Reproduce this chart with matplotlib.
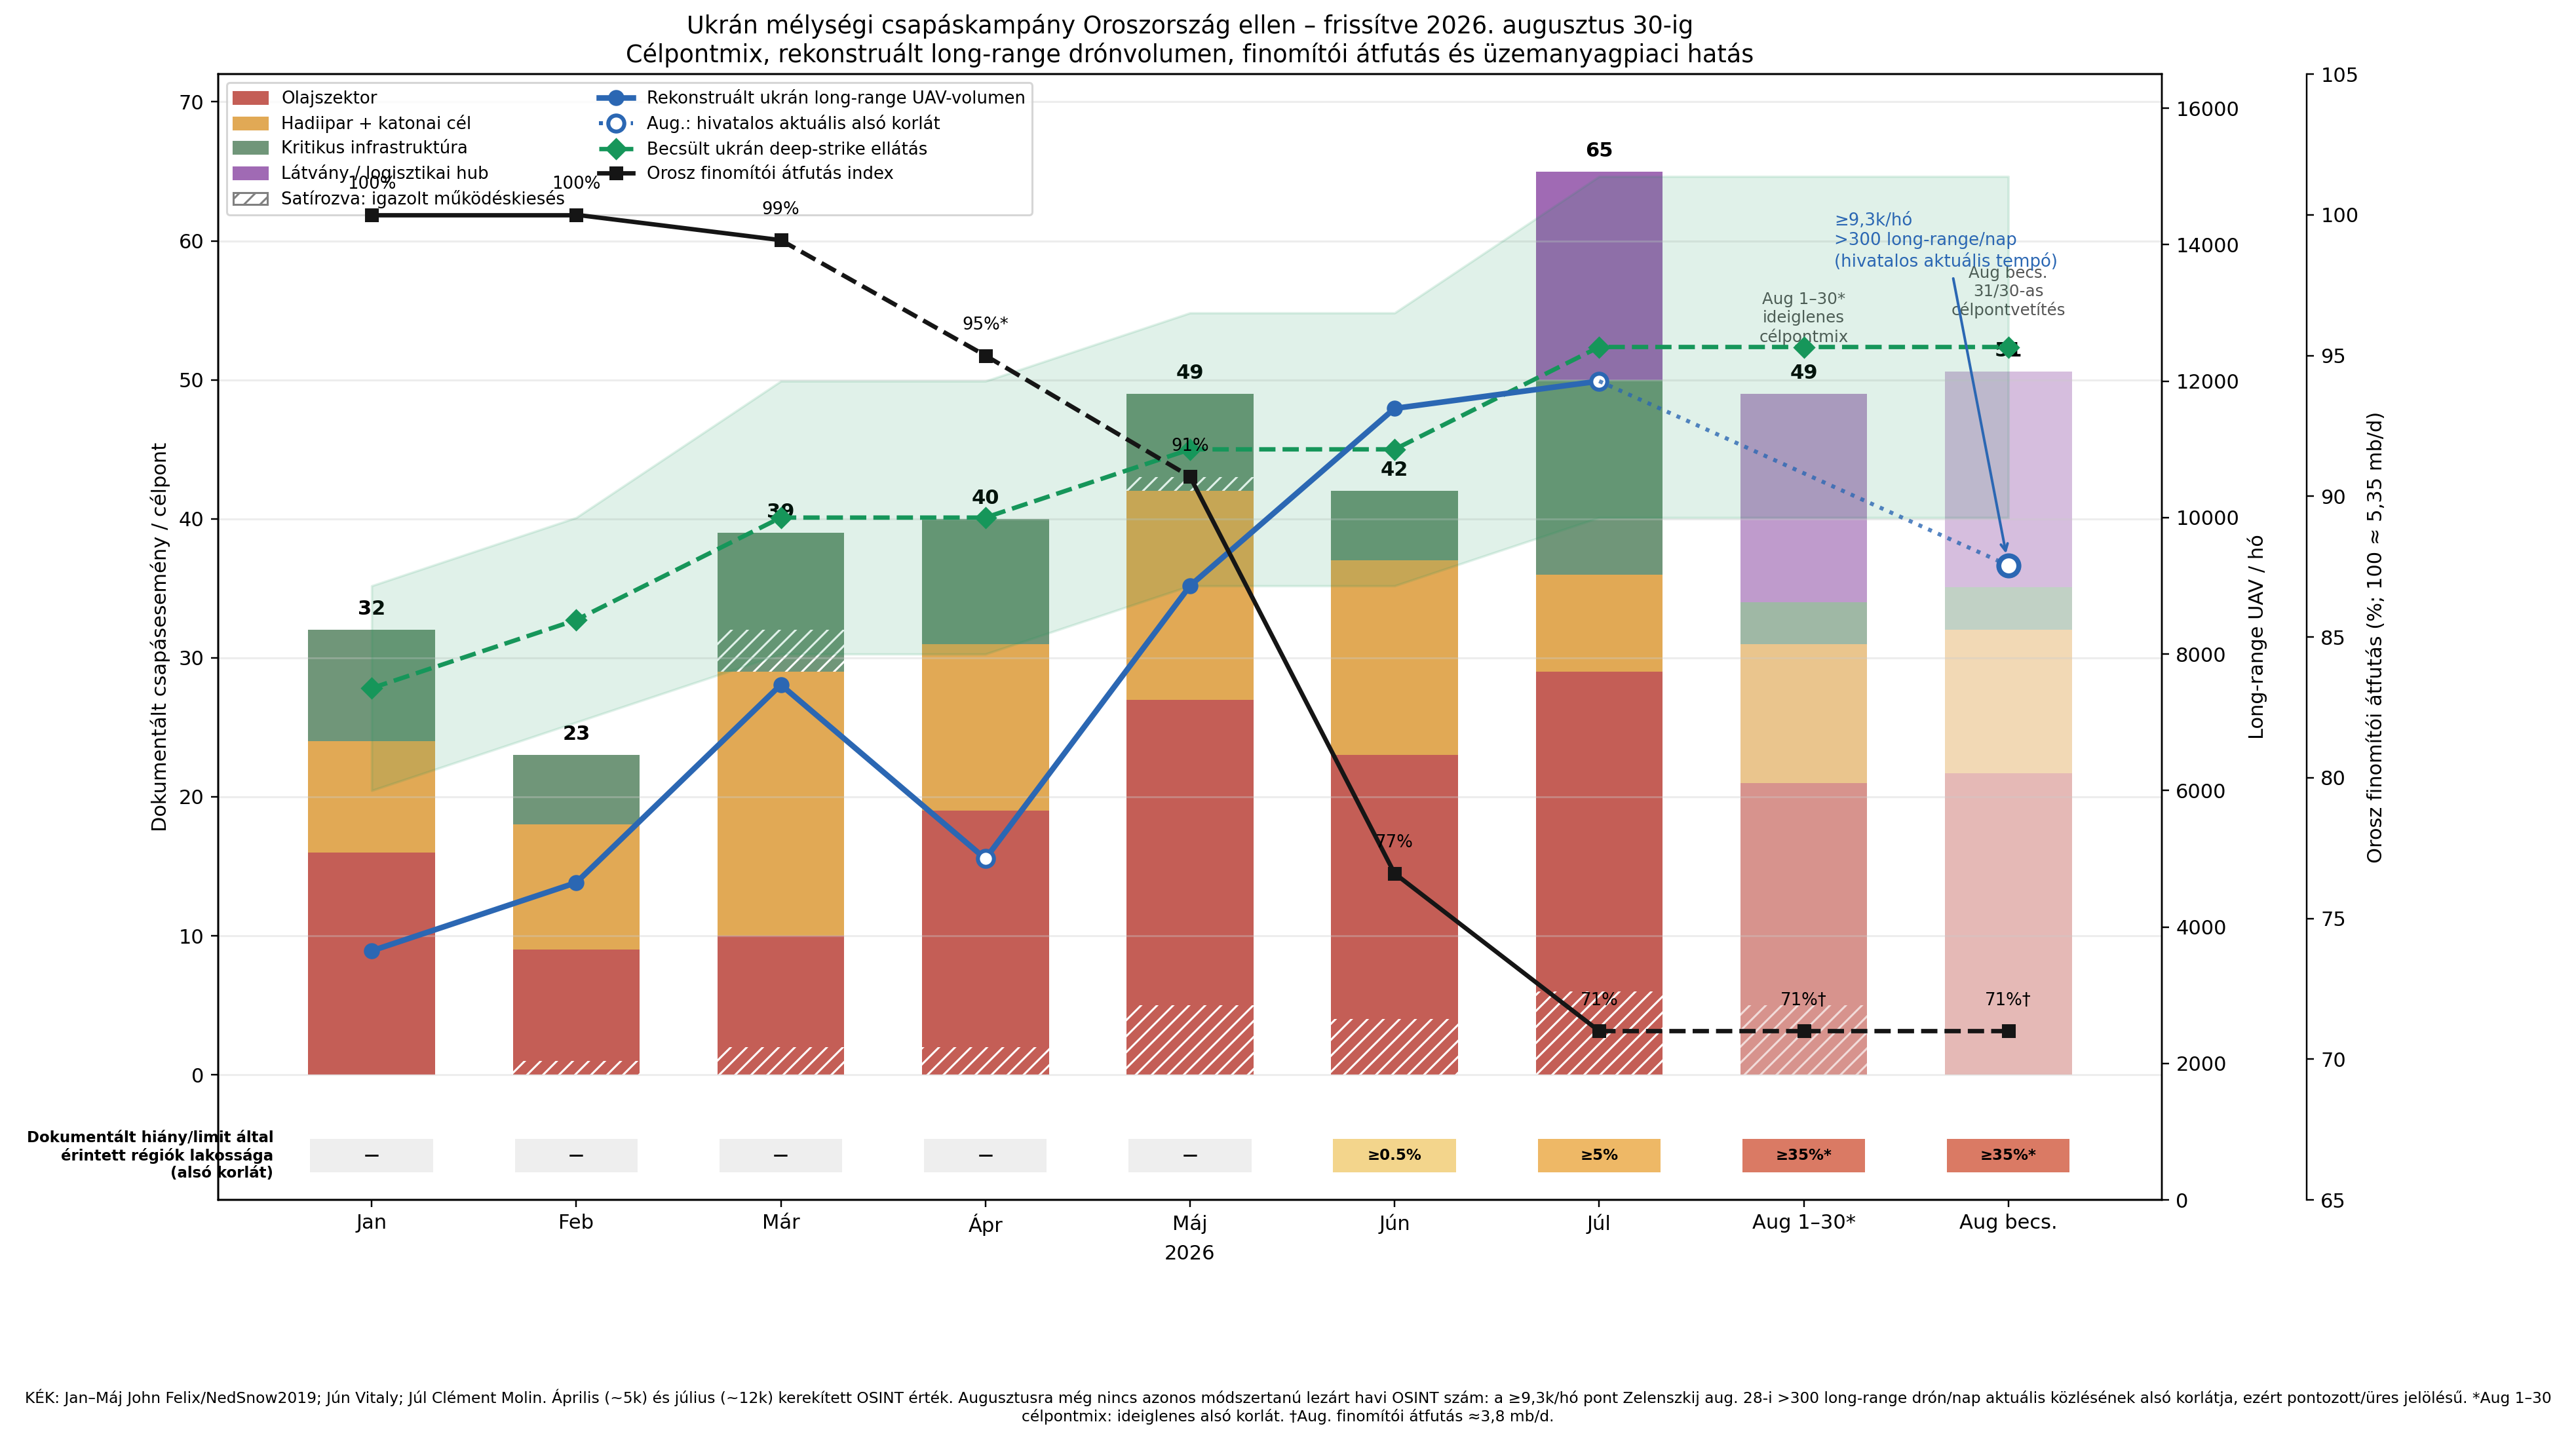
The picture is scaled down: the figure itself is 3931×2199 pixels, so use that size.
import numpy as np
import matplotlib
matplotlib.use("Agg")
import matplotlib.pyplot as plt
from matplotlib.colors import to_rgba
from matplotlib.patches import Patch
from matplotlib.lines import Line2D

# ---- data ----
months = ['Jan', 'Feb', 'Már', 'Ápr', 'Máj', 'Jún', 'Júl', 'Aug 1–30*', 'Aug becs.']

# célpontmix (darab)
olaj = [16, 9, 10, 19, 27, 23, 29, 21, 21.7]
hadiipar = [8, 9, 19, 12, 15, 14, 7, 10, 10.3]
infra = [8, 5, 10, 9, 7, 5, 14, 3, 3.1]
logisztika = [0, 0, 0, 0, 0, 0, 15, 15, 15.5]

# igazolt működéskiesés (satírozott rész)
kieses_olaj = [0, 1, 2, 2, 5, 4, 6, 5, 0]
kieses_infra = [0, 0, 3, 0, 1, 0, 0, 0, 0]

# long-range UAV / hó (Jan–Júl), aug. alsó korlát
uav = [3650, 4650, 7550, 5000, 9000, 11600, 12000]
uav_open = [3, 6]          # kerekített OSINT értékek
uav_aug_low = 9300

# becsült deep-strike ellátás + sáv
ellatas = [7500, 8500, 10000, 10000, 11000, 11000, 12500, 12500, 12500]
ellatas_lo = [6000, 7000, 8000, 8000, 9000, 9000, 10000, 10000, 10000]
ellatas_hi = [9000, 10000, 12000, 12000, 13000, 13000, 15000, 15000, 15000]

# finomítói átfutás index (%)
finomito = [100, 100, 99.1, 95.0, 90.7, 76.6, 71.0, 71.0, 71.0]
finomito_lbl = ['100%', '100%', '99%', '95%*', '91%', '77%', '71%', '71%†', '71%†']

# érintett lakosság
lakossag = ['—', '—', '—', '—', '—', '≥0.5%', '≥5%', '≥35%*', '≥35%*']
lakossag_col = ['#eeeeee'] * 5 + ['#f3d58c', '#eeb866', '#da7a64', '#da7a64']

# ---- colors ----
c_olaj = '#c45e56'
c_had = '#e1a955'
c_inf = '#709679'
c_log = '#a06ab4'
c_blue = '#2b67b3'
c_green = '#16965a'
c_black = '#151515'
bar_alpha = [1, 1, 1, 1, 1, 1, 1, 0.67, 0.43]

x = np.arange(len(months))
w = 0.62

fig = plt.figure(figsize=(3931 / 220, 2199 / 220), dpi=220)
ax = fig.add_axes([0.0847, 0.1673, 0.7545, 0.7813])


def cols(c):
    return [to_rgba(c, a) for a in bar_alpha]


bottom = np.zeros(len(x))
for vals, c in [(olaj, c_olaj), (hadiipar, c_had), (infra, c_inf), (logisztika, c_log)]:
    ax.bar(x, vals, w, bottom=bottom, color=cols(c), linewidth=0)
    bottom += np.array(vals)
total = bottom

# satírozás
hatch_ec = [to_rgba('white', a) for a in bar_alpha]
ax.bar(x, kieses_olaj, w, bottom=0, facecolor='none', edgecolor=hatch_ec,
       hatch='///', linewidth=0)
ax.bar(x, kieses_infra, w, bottom=np.array(olaj) + np.array(hadiipar),
       facecolor='none', edgecolor=hatch_ec, hatch='///', linewidth=0)

for xi, t in zip(x, total):
    ax.text(xi, t + 0.8, f'{t:.0f}', ha='center', va='bottom',
            fontsize=10, fontweight='bold')

# lakossági sor
ax.bar(x, 2.4, 0.6, bottom=-7, color=lakossag_col, linewidth=0)
for xi, s in zip(x, lakossag):
    ax.text(xi, -5.8, s, ha='center', va='center', fontsize=7.5, fontweight='bold')
ax.text(-0.48, -5.8, 'Dokumentált hiány/limit által\nérintett régiók lakossága\n(alsó korlát)',
        ha='right', va='center', fontsize=7.5, fontweight='bold')

ax.set_xlim(-0.75, 8.75)
ax.set_ylim(-9, 72)
ax.set_yticks(range(0, 71, 10))
ax.set_xticks(x)
ax.set_xticklabels(months)
ax.set_xlabel('2026')
ax.set_ylabel('Dokumentált csapásesemény / célpont')
ax.grid(axis='y', color='#cccccc', alpha=0.35, lw=1.0)
ax.set_title('Ukrán mélységi csapáskampány Oroszország ellen – frissítve 2026. augusztus 30-ig\n'
             'Célpontmix, rekonstruált long-range drónvolumen, finomítói átfutás és üzemanyagpiaci hatás',
             fontsize=12)

# ---- UAV tengely ----
ax2 = ax.twinx()
ax2.set_ylim(0, 16500)
ax2.fill_between(x, ellatas_lo, ellatas_hi, color=c_green, alpha=0.13, lw=1.2)
ax2.plot(x, ellatas, '--', color=c_green, lw=2.2, marker='D', ms=7)
ax2.plot(x[:len(uav)], uav, '-', color=c_blue, lw=2.8, marker='o', ms=7)
ax2.plot(x[uav_open], np.array(uav)[uav_open], 'o', mfc='white', mec=c_blue,
         mew=2, ms=8, ls='none')
ax2.plot([x[6], x[8]], [uav[6], uav_aug_low], ':', color=c_blue, alpha=0.8, lw=2)
ax2.plot(x[8], uav_aug_low, 'o', mfc='white', mec=c_blue, mew=2.5, ms=10)
ax2.set_ylabel('Long-range UAV / hó')
ax2.annotate('≥9,3k/hó\n>300 long-range/nap\n(hivatalos aktuális tempó)',
             xy=(x[8], uav_aug_low), xytext=(7.15, 14470), ha='left', va='top',
             fontsize=8.5, color=c_blue,
             arrowprops=dict(arrowstyle='->', color=c_blue, lw=1.3, shrinkB=6))

ax.text(7, 52.5, 'Aug 1–30*\nideiglenes\ncélpontmix', ha='center', va='bottom',
        fontsize=8, color='#555555', zorder=6)
ax.text(8, 54.4, 'Aug becs.\n31/30-as\ncélpontvetítés', ha='center', va='bottom',
        fontsize=8, color='#555555', zorder=6)

handles = [
    Patch(color=c_olaj, label='Olajszektor'),
    Patch(color=c_had, label='Hadiipar + katonai cél'),
    Patch(color=c_inf, label='Kritikus infrastruktúra'),
    Patch(color=c_log, label='Látvány / logisztikai hub'),
    Patch(facecolor='white', edgecolor='gray', hatch='///', label='Satírozva: igazolt működéskiesés'),
    Line2D([], [], color=c_blue, lw=2.8, marker='o', ms=7, label='Rekonstruált ukrán long-range UAV-volumen'),
    Line2D([], [], color=c_blue, lw=2, ls=':', marker='o', mfc='white', mew=2, ms=8,
           label='Aug.: hivatalos aktuális alsó korlát'),
    Line2D([], [], color=c_green, lw=2.2, ls='--', marker='D', ms=7, label='Becsült ukrán deep-strike ellátás'),
    Line2D([], [], color=c_black, lw=2.2, marker='s', ms=6, label='Orosz finomítói átfutás index'),
]
ax2.legend(handles=handles, loc='upper left', ncol=2, fontsize=8.5, labelspacing=0.42)

# ---- finomítói tengely ----
ax3 = ax.twinx()
ax3.spines['right'].set_position(('axes', 1.0745))
ax3.set_ylim(65, 105)
for i in range(len(x) - 1):
    est = any(m in finomito_lbl[j] for j in (i, i + 1) for m in '*†')
    ax3.plot(x[i:i + 2], finomito[i:i + 2], '--' if est else '-', color=c_black, lw=2.2)
ax3.plot(x, finomito, 's', color=c_black, ms=6, ls='none')
for xi, v, s in zip(x, finomito, finomito_lbl):
    ax3.annotate(s, (xi, v), xytext=(0, 11), textcoords='offset points',
                 ha='center', va='bottom', fontsize=8.5)
ax3.set_ylabel('Orosz finomítói átfutás (%; 100 ≈ 5,35 mb/d)')

fig.text(0.5, 0.0236,
         'KÉK: Jan–Máj John Felix/NedSnow2019; Jún Vitaly; Júl Clément Molin. Április (~5k) és július (~12k) '
         'kerekített OSINT érték. Augusztusra még nincs azonos módszertanú lezárt havi OSINT szám: a ≥9,3k/hó pont '
         'Zelenszkij aug. 28-i >300 long-range drón/nap aktuális közlésének alsó korlátja, ezért pontozott/üres '
         'jelölésű. *Aug 1–30\ncélpontmix: ideiglenes alsó korlát. †Aug. finomítói átfutás ≈3,8 mb/d.',
         ha='center', va='center', fontsize=7.65)

fig.savefig('out.png', dpi=220)
